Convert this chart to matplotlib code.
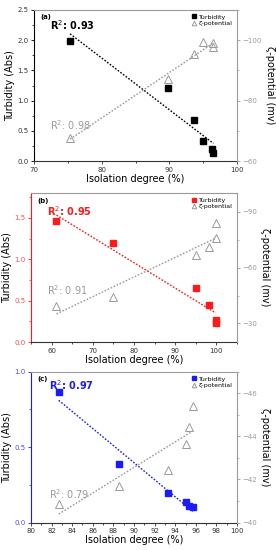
import matplotlib
matplotlib.use("Agg")
import matplotlib.pyplot as plt
import numpy as np
from matplotlib.ticker import AutoMinorLocator, MultipleLocator

# ── Data ──────────────────────────────────────────────────────────────────────
A_TURB_X = [75.3, 89.8, 93.6, 95.0, 96.3, 96.5]
A_TURB_Y = [1.985, 1.21, 0.675, 0.33, 0.205, 0.13]
A_ZETA_X = [75.3, 89.8, 93.6, 95.0, 96.5, 96.5]
A_ZETA_Y = [-67.6, -87.1, -95.4, -99.4, -97.6, -98.9]

B_TURB_X = [61.2, 75.0, 95.0, 98.3, 99.8, 99.8]
B_TURB_Y = [1.46, 1.195, 0.65, 0.443, 0.265, 0.233]
B_ZETA_X = [61.2, 75.0, 95.0, 98.3, 99.8, 99.8]
B_ZETA_Y = [-39.3, -44.1, -67.0, -71.1, -75.9, -84.0]

C_TURB_X = [82.7, 88.5, 93.3, 95.0, 95.3, 95.7]
C_TURB_Y = [0.865, 0.387, 0.193, 0.135, 0.108, 0.100]
C_ZETA_X = [82.7, 88.5, 93.3, 95.0, 95.3, 95.7]
C_ZETA_Y = [-40.84, -41.69, -42.46, -43.63, -44.42, -45.43]

R2_TURB = ["0.93", "0.95", "0.97"]
R2_ZETA = ["0.98", "0.91", "0.79"]
PANEL_TAGS = ["(a)", "(b)", "(c)"]

# ── Style ─────────────────────────────────────────────────────────────────────
GRAY = "#9a9a9a"
PANEL_COLORS = ["black", "#ff1a1a", "#1a1aff"]
TICK_COLORS = ["#333333", "#ff4d4d", "#4d4dff"]

PANELS = [
    dict(rect=[0.124, 0.707, 0.735, 0.275], xlim=(70, 100), xstep=10,
         ylim=(0, 2.5), ystep=0.5, rlim=(-60, -110), rstep=20,
         r2_pos=[(0.077, 0.90), (0.077, 0.24)]),
    dict(rect=[0.112, 0.378, 0.747, 0.271], xlim=(55, 105), xstep=10,
         ylim=(0, 1.8), ystep=0.5, rlim=(-20, -100), rstep=30,
         r2_pos=[(0.08, 0.88), (0.08, 0.35)]),
    dict(rect=[0.112, 0.050, 0.747, 0.274], xlim=(80, 100), xstep=2,
         ylim=(0, 1.0), ystep=0.5, rlim=(-40, -47), rstep=2,
         r2_pos=[(0.09, 0.91), (0.09, 0.19)]),
]
DATA = [
    (A_TURB_X, A_TURB_Y, A_ZETA_X, A_ZETA_Y),
    (B_TURB_X, B_TURB_Y, B_ZETA_X, B_ZETA_Y),
    (C_TURB_X, C_TURB_Y, C_ZETA_X, C_ZETA_Y),
]


def fit_line(ax, x, y, color):
    x = np.asarray(x)
    k, b = np.polyfit(x, y, 1)
    xs = np.array([x.min(), x.max()])
    ax.plot(xs, k * xs + b, linestyle=(0, (1.2, 1.2)), color=color, lw=1.0, zorder=2)


fig = plt.figure(figsize=(2.76, 5.5), dpi=100)

for i, (p, d) in enumerate(zip(PANELS, DATA)):
    tx, ty, zx, zy = d
    col = PANEL_COLORS[i]
    ax = fig.add_axes(p["rect"])
    ax2 = ax.twinx()

    fit_line(ax, tx, ty, col)
    ax.plot(tx, ty, "s", color=col, ms=4.5, zorder=3, label="Turbidity")
    fit_line(ax2, zx, zy, GRAY)
    ax2.plot(zx, zy, "^", mfc="none", mec=GRAY, mew=0.7, ms=5.5, zorder=3, label="ζ-potential")

    ax.set_xlim(*p["xlim"])
    ax.set_ylim(*p["ylim"])
    ax2.set_ylim(*p["rlim"])
    ax.xaxis.set_major_locator(MultipleLocator(p["xstep"]))
    ax.yaxis.set_major_locator(MultipleLocator(p["ystep"]))
    ax2.yaxis.set_major_locator(MultipleLocator(p["rstep"]))
    for a in (ax.xaxis, ax.yaxis, ax2.yaxis):
        a.set_minor_locator(AutoMinorLocator(2))

    ax.tick_params(axis="x", labelsize=5, length=2.5, width=0.6, pad=1.5, colors="#333333")
    ax.tick_params(axis="x", which="minor", length=1.5, width=0.5)
    ax.tick_params(axis="y", labelsize=5, length=2.5, width=0.6, pad=1.5,
                   color=col, labelcolor=TICK_COLORS[i])
    ax.tick_params(axis="y", which="minor", length=1.5, width=0.5, color=col)
    ax2.tick_params(axis="y", labelsize=5, length=2.5, width=0.6, pad=1.5,
                    color=GRAY, labelcolor=GRAY)
    ax2.tick_params(axis="y", which="minor", length=1.5, width=0.5, color=GRAY)
    ax.yaxis.set_major_formatter(plt.FuncFormatter(lambda v, _: f"{v:.1f}"))

    ax.spines["left"].set_color(col)
    ax.spines["bottom"].set_color("#333333")
    ax.spines["top"].set_color(GRAY)
    ax.spines["right"].set_visible(False)
    ax2.spines["right"].set_color(GRAY)
    for s in ("left", "top", "bottom"):
        ax2.spines[s].set_visible(False)
    for s in ax.spines.values():
        s.set_linewidth(0.8)
    ax2.spines["right"].set_linewidth(0.8)

    ax.set_xlabel("Isolation degree (%)", fontsize=7, labelpad=1)
    ax.set_ylabel("Turbidity (Abs)", fontsize=7, labelpad=1.5)
    ax2.set_ylabel("ζ-potential (mv)", fontsize=7, rotation=270, labelpad=9)

    ax.text(0.03, 0.97, PANEL_TAGS[i], transform=ax.transAxes, fontsize=5,
            fontweight="bold", ha="left", va="top")
    (rx1, ry1), (rx2, ry2) = p["r2_pos"]
    ax.text(rx1, ry1, "R$^2$: " + R2_TURB[i], transform=ax.transAxes, fontsize=7,
            fontweight="bold", color=col, ha="left", va="center")
    ax.text(rx2, ry2, "R$^2$: " + R2_ZETA[i], transform=ax.transAxes, fontsize=7,
            color=GRAY, ha="left", va="center")

    h1, l1 = ax.get_legend_handles_labels()
    h2, l2 = ax2.get_legend_handles_labels()
    ax2.legend(h1 + h2, l1 + l2, loc="upper right", fontsize=4.5, frameon=False,
               handlelength=1.0, handletextpad=0.3, borderaxespad=0.3,
               labelspacing=0.2, markerscale=0.6)

fig.savefig("out.png", dpi=100)
